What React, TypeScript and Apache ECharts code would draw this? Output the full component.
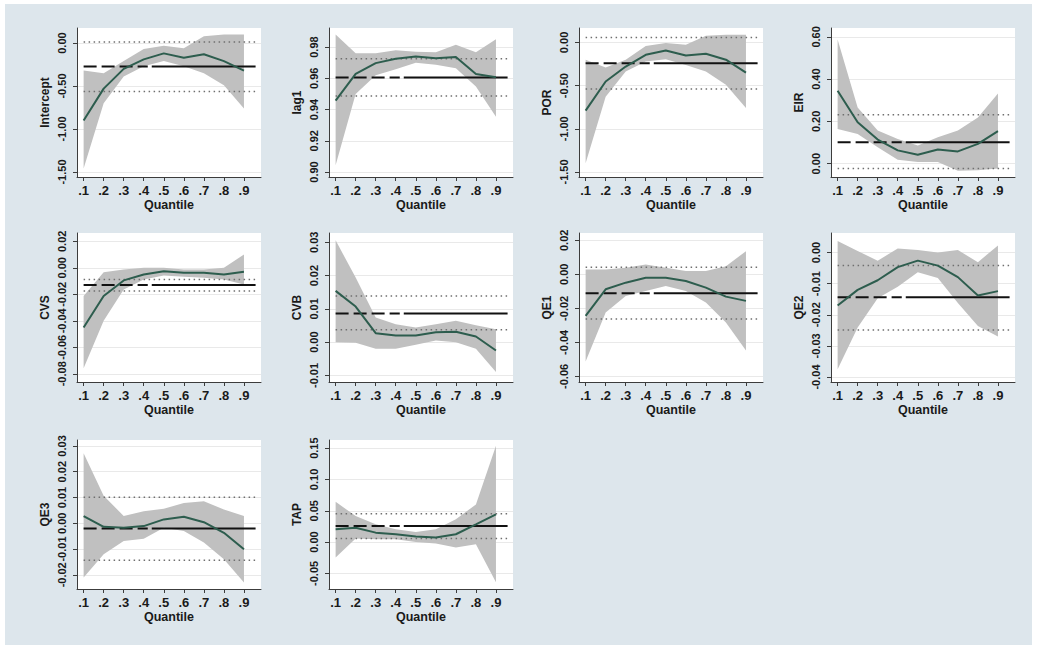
import { useEffect, useRef } from "react";
import * as echarts from "echarts";

// Quantiles at which the regression was estimated
const quantiles = [0.1, 0.2, 0.3, 0.4, 0.5, 0.6, 0.7, 0.8, 0.9];
const quantileTicks = [0.1, 0.2, 0.3, 0.4, 0.5, 0.6, 0.7, 0.8, 0.9];

// Quantile-regression coefficients with 95% confidence bounds,
// and the OLS estimate as [coefficient, lower bound, upper bound]
const interceptCoef = [-0.9, -0.53, -0.3, -0.19, -0.12, -0.17, -0.13, -0.21, -0.32];
const interceptLower = [-1.46, -0.7, -0.39, -0.27, -0.21, -0.27, -0.35, -0.49, -0.76];
const interceptUpper = [-0.32, -0.35, -0.21, -0.07, -0.03, -0.06, 0.08, 0.1, 0.1];
const interceptOls = [-0.273, -0.565, 0.012];

const lag1Coef = [0.9457, 0.9628, 0.9697, 0.9725, 0.974, 0.9729, 0.9736, 0.9628, 0.9607];
const lag1Lower = [0.9043, 0.95, 0.962, 0.9658, 0.97, 0.9686, 0.9665, 0.9547, 0.9354];
const lag1Upper = [0.988, 0.9761, 0.976, 0.978, 0.977, 0.9766, 0.9815, 0.9766, 0.985];
const lag1Ols = [0.9605, 0.9487, 0.9725];

const porCoef = [-0.79, -0.453, -0.279, -0.143, -0.093, -0.151, -0.132, -0.2, -0.35];
const porLower = [-1.4, -0.63, -0.337, -0.22, -0.194, -0.26, -0.337, -0.49, -0.76];
const porUpper = [-0.2, -0.29, -0.2, -0.04, -0.008, -0.027, 0.078, 0.089, 0.089];
const porOls = [-0.24, -0.539, 0.058];

const eirCoef = [0.345, 0.196, 0.114, 0.063, 0.042, 0.067, 0.058, 0.094, 0.154];
const eirLower = [0.164, 0.141, 0.078, 0.019, 0.008, 0.008, -0.034, -0.031, -0.023];
const eirUpper = [0.587, 0.266, 0.157, 0.117, 0.086, 0.125, 0.157, 0.219, 0.332];
const eirOls = [0.102, -0.023, 0.232];

const cvsCoef = [-0.045, -0.0213, -0.0095, -0.005, -0.0025, -0.0038, -0.0038, -0.005, -0.003];
const cvsLower = [-0.0758, -0.04, -0.0163, -0.0088, -0.0058, -0.0068, -0.0075, -0.0088, -0.0125];
const cvsUpper = [-0.0213, -0.0033, -0.0013, 0.0, 0.0, -0.0013, -0.0013, 0.0, 0.01];
const cvsOls = [-0.013, -0.0175, -0.0088];

const cvbCoef = [0.0154, 0.0107, 0.0027, 0.002, 0.002, 0.003, 0.0031, 0.0017, -0.0025];
const cvbLower = [0.0, -0.0002, -0.002, -0.002, -0.0008, 0.0005, 0.0, -0.002, -0.009];
const cvbUpper = [0.0306, 0.0194, 0.0074, 0.0054, 0.0044, 0.0054, 0.0064, 0.0051, 0.0039];
const cvbOls = [0.0086, 0.0037, 0.0139];

const qe1Coef = [-0.0244, -0.0088, -0.0049, -0.002, -0.002, -0.0039, -0.0078, -0.0131, -0.0156];
const qe1Lower = [-0.0512, -0.0224, -0.0127, -0.0098, -0.0069, -0.0098, -0.0166, -0.0283, -0.0448];
const qe1Upper = [0.0029, 0.0029, 0.0038, 0.0058, 0.0038, 0.0019, 0.0019, 0.0048, 0.0136];
const qe1Ols = [-0.0111, -0.0263, 0.0042];

const qe2Coef = [-0.017, -0.012, -0.0089, -0.0047, -0.0026, -0.0042, -0.0079, -0.0138, -0.0124];
const qe2Lower = [-0.0375, -0.0241, -0.0147, -0.011, -0.0063, -0.0082, -0.0162, -0.0236, -0.027];
const qe2Upper = [0.0037, 0.0005, -0.0026, 0.0013, 0.0008, 0.0, 0.0008, -0.0031, 0.0023];
const qe2Ols = [-0.0144, -0.0249, -0.0042];

const qe3Coef = [0.0028, -0.0014, -0.0017, -0.0011, 0.0015, 0.0025, 0.0004, -0.0037, -0.0101];
const qe3Lower = [-0.021, -0.012, -0.0069, -0.006, -0.0017, -0.003, -0.0075, -0.014, -0.023];
const qe3Upper = [0.0272, 0.0107, 0.0028, 0.0047, 0.0056, 0.0079, 0.0085, 0.0053, 0.0028];
const qe3Ols = [-0.002, -0.0143, 0.0101];

const tapCoef = [0.0204, 0.023, 0.0151, 0.0125, 0.0088, 0.0072, 0.0125, 0.0283, 0.0442];
const tapLower = [-0.0246, 0.0056, 0.0045, 0.0045, 0.0003, -0.0024, -0.0087, -0.0034, -0.0642];
const tapUpper = [0.0643, 0.0416, 0.0283, 0.0204, 0.0162, 0.0204, 0.0363, 0.0601, 0.1537];
const tapOls = [0.0257, 0.0056, 0.0453];

// Y-axis tick values for each panel
const interceptTicks = [-1.5, -1.0, -0.5, 0.0];
const lag1Ticks = [0.9, 0.92, 0.94, 0.96, 0.98];
const porTicks = [-1.5, -1.0, -0.5, 0.0];
const eirTicks = [0.0, 0.2, 0.4, 0.6];
const cvsTicks = [-0.08, -0.06, -0.04, -0.02, 0.0, 0.02];
const cvbTicks = [-0.01, 0.0, 0.01, 0.02, 0.03];
const qe1Ticks = [-0.06, -0.04, -0.02, 0.0, 0.02];
const qe2Ticks = [-0.04, -0.03, -0.02, -0.01, 0.0];
const qe3Ticks = [-0.02, -0.01, 0.0, 0.01, 0.02, 0.03];
const tapTicks = [-0.05, 0.0, 0.05, 0.1, 0.15];

type Panel = {
  name: string;
  coef: number[];
  lower: number[];
  upper: number[];
  ols: number[];
  ticks: number[];
  range: [number, number];
};

const panels: Panel[] = [
  { name: "Intercept", coef: interceptCoef, lower: interceptLower, upper: interceptUpper, ols: interceptOls, ticks: interceptTicks, range: [-1.558, 0.175] },
  { name: "lag1", coef: lag1Coef, lower: lag1Lower, upper: lag1Upper, ols: lag1Ols, ticks: lag1Ticks, range: [0.8968, 0.9922] },
  { name: "POR", coef: porCoef, lower: porLower, upper: porUpper, ols: porOls, ticks: porTicks, range: [-1.558, 0.167] },
  { name: "EIR", coef: eirCoef, lower: eirLower, upper: eirUpper, ols: eirOls, ticks: eirTicks, range: [-0.063, 0.642] },
  { name: "CVS", coef: cvsCoef, lower: cvsLower, upper: cvsUpper, ols: cvsOls, ticks: cvsTicks, range: [-0.0862, 0.0263] },
  { name: "CVB", coef: cvbCoef, lower: cvbLower, upper: cvbUpper, ols: cvbOls, ticks: cvbTicks, range: [-0.01197, 0.0328] },
  { name: "QE1", coef: qe1Coef, lower: qe1Lower, upper: qe1Upper, ols: qe1Ols, ticks: qe1Ticks, range: [-0.0633, 0.0243] },
  { name: "QE2", coef: qe2Coef, lower: qe2Lower, upper: qe2Upper, ols: qe2Ols, ticks: qe2Ticks, range: [-0.0416, 0.00628] },
  { name: "QE3", coef: qe3Coef, lower: qe3Lower, upper: qe3Upper, ols: qe3Ols, ticks: qe3Ticks, range: [-0.0255, 0.0323] },
  { name: "TAP", coef: tapCoef, lower: tapLower, upper: tapUpper, ols: tapOls, ticks: tapTicks, range: [-0.0749, 0.163] },
];

const X_MIN = 0.067;
const X_MAX = 0.985;
const OLS_START = 0.1;
const OLS_DASH_END = 0.42;
const OLS_SOLID_START = 0.44;
const OLS_END = 0.958;

const COL_LEFT = [77, 329, 579, 831];
const ROW_TOP = [28, 233, 440];
const PLOT_W = 184;
const PLOT_H = 149;

const FONT = "'Liberation Sans', Arial, sans-serif";
const AXIS_COLOR = "#3c3c3c";
const TEXT_COLOR = "#1a1a1a";

function buildOption(): echarts.EChartsOption {
  const grid: any[] = [];
  const xAxis: any[] = [];
  const yAxis: any[] = [];
  const series: any[] = [];

  panels.forEach((p, i) => {
    const col = i % 4;
    const row = Math.floor(i / 4);
    grid.push({
      left: COL_LEFT[col],
      top: ROW_TOP[row],
      width: PLOT_W,
      height: PLOT_H,
      show: true,
      backgroundColor: "#ffffff",
      borderWidth: 0,
      containLabel: false,
    });

    xAxis.push({
      type: "value",
      gridIndex: i,
      min: X_MIN,
      max: X_MAX,
      name: "Quantile",
      nameLocation: "middle",
      nameGap: 21,
      nameTextStyle: { fontFamily: FONT, fontWeight: "bold", fontSize: 12.5, color: TEXT_COLOR },
      axisLine: { show: true, onZero: false, lineStyle: { color: AXIS_COLOR, width: 1 } },
      axisTick: { show: true, inside: false, length: 4, customValues: quantileTicks, lineStyle: { color: AXIS_COLOR } },
      axisLabel: {
        show: true,
        customValues: quantileTicks,
        hideOverlap: false,
        margin: 7,
        fontFamily: FONT,
        fontWeight: "bold",
        fontSize: 13,
        color: TEXT_COLOR,
        formatter: (v: number) => v.toFixed(1).replace(/^0/, ""),
      },
      splitLine: { show: false },
    });

    yAxis.push({
      type: "value",
      gridIndex: i,
      min: p.range[0],
      max: p.range[1],
      name: p.name,
      nameLocation: "middle",
      nameGap: 26,
      nameTextStyle: { fontFamily: FONT, fontWeight: "bold", fontSize: 12, color: TEXT_COLOR },
      axisLine: { show: true, onZero: false, lineStyle: { color: AXIS_COLOR, width: 1 } },
      axisTick: { show: true, inside: false, length: 4, customValues: p.ticks, lineStyle: { color: AXIS_COLOR } },
      axisLabel: {
        show: true,
        customValues: p.ticks,
        hideOverlap: false,
        rotate: 90,
        margin: 10,
        fontFamily: FONT,
        fontWeight: "bold",
        fontSize: 11,
        color: TEXT_COLOR,
        formatter: (v: number) => v.toFixed(2),
      },
      splitLine: { show: true, lineStyle: { color: "#e9e9e9", width: 1 } },
    });

    // Confidence band of the quantile estimates
    const lower = p.lower;
    const upper = p.upper;
    series.push({
      type: "custom",
      xAxisIndex: i,
      yAxisIndex: i,
      silent: true,
      z: 1,
      data: quantiles.map((q, k) => [q, lower[k], upper[k]]),
      encode: { x: 0, y: [1, 2] },
      renderItem: (params: any, api: any) => {
        if (params.dataIndex !== 0) return null;
        const top = quantiles.map((q, k) => api.coord([q, upper[k]]));
        const bottom = quantiles.map((q, k) => api.coord([q, lower[k]])).reverse();
        return {
          type: "polygon",
          shape: { points: top.concat(bottom) },
          style: { fill: "#c0c0c0", stroke: "none" },
        };
      },
    });

    const flat = (x0: number, x1: number, y: number) => [
      [x0, y],
      [x1, y],
    ];
    const lineBase = {
      type: "line",
      xAxisIndex: i,
      yAxisIndex: i,
      showSymbol: false,
      symbol: "none",
      silent: true,
      animation: false,
    };

    // OLS confidence bounds
    [p.ols[1], p.ols[2]].forEach((b) => {
      series.push({
        ...lineBase,
        z: 2,
        data: flat(OLS_START, OLS_END, b),
        lineStyle: { color: "#6f6f6f", width: 1.5, type: [1.5, 3.5] },
      });
    });

    // OLS estimate
    series.push({
      ...lineBase,
      z: 3,
      data: flat(OLS_START, OLS_DASH_END, p.ols[0]),
      lineStyle: { color: "#111111", width: 2, type: [13, 5] },
    });
    series.push({
      ...lineBase,
      z: 3,
      data: flat(OLS_SOLID_START, OLS_END, p.ols[0]),
      lineStyle: { color: "#111111", width: 2, type: "solid" },
    });

    // Quantile coefficient path
    series.push({
      ...lineBase,
      z: 4,
      data: quantiles.map((q, k) => [q, p.coef[k]]),
      lineStyle: { color: "#2d5d4e", width: 2 },
    });
  });

  return {
    animation: false,
    backgroundColor: "#ffffff",
    graphic: [
      {
        type: "rect",
        z: -10,
        silent: true,
        shape: { x: 5, y: 4, width: 1027, height: 641 },
        style: { fill: "#dde6ec" },
      },
    ],
    grid,
    xAxis,
    yAxis,
    series,
  };
}

export default function App() {
  const ref = useRef<HTMLDivElement>(null);

  useEffect(() => {
    document.body.style.margin = "0";
    if (!ref.current) return;
    const chart = echarts.init(ref.current, undefined, { renderer: "svg" });
    chart.setOption(buildOption());
    return () => {
      chart.dispose();
    };
  }, []);

  return <div ref={ref} style={{ width: 1037, height: 649 }} />;
}
